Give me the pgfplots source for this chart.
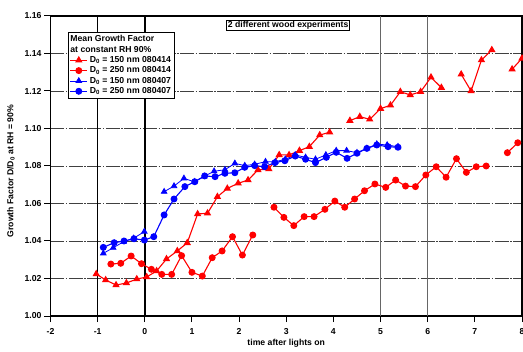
\documentclass[border=0pt]{standalone}
\usepackage{fontspec}
\setmainfont{Liberation Sans}
\usepackage{pgfplots}
\pgfplotsset{compat=1.18}
\newcommand{\chf}{\fontsize{8.7}{9.8}\selectfont\bfseries}
\begin{document}
\chf
\begin{tikzpicture}
\begin{axis}[
  scale only axis, width=471.5bp, height=300bp,
  xmin=-2, xmax=8, ymin=1.0, ymax=1.16,
  xtick={-2,-1,0,1,2,3,4,5,6,7,8},
  ytick={1.00,1.02,1.04,1.06,1.08,1.10,1.12,1.14,1.16},
  yticklabel style={/pgf/number format/.cd,fixed,fixed zerofill,precision=2},
  /pgf/number format/assume math mode=true,
  tick label style={font=\chf},
  xticklabel style={yshift=-3.5bp},
  label style={font=\chf},
  tick align=outside, tick pos=left,
  major tick length=6bp,
  tick style={line width=1bp, black},
  axis line style={line width=1.6bp},
  ymajorgrids,
  major grid style={black!75, line width=0.9bp, dash pattern=on 14bp off 1.5bp on 1.5bp off 1.5bp},
  xlabel={time after lights on},
  ylabel={Growth Factor D/D\textsubscript{0} at RH = 90\%},
  xlabel style={yshift=1bp},
  ylabel style={yshift=4bp, xshift=-5bp},
  unbounded coords=jump,
  legend cell align=left,
  legend style={at={(0.037,0.947)}, anchor=north west, draw=black, line width=1.2bp,
    font=\fontsize{8.7}{9}\selectfont\bfseries, inner sep=1.2bp, row sep=-1bp,
    /tikz/every even column/.append style={column sep=2bp}},
]
\draw[black, line width=0.9bp] (axis cs:-1,1) -- (axis cs:-1,1.16);
\draw[black, line width=1.6bp] (axis cs:0,1) -- (axis cs:0,1.16);
\draw[black!60, line width=0.9bp] (axis cs:5,1) -- (axis cs:5,1.16);
\draw[black!60, line width=0.9bp] (axis cs:6,1) -- (axis cs:6,1.16);
\addlegendimage{empty legend}\addlegendentry{\hspace*{-19.5pt}Mean Growth Factor}
\addlegendimage{empty legend}\addlegendentry{\hspace*{-19.5pt}at constant RH 90\%}
\addplot[red, line width=1.1bp, mark=triangle*, mark size=3.2bp, mark options={solid}] coordinates {
(-1.03,1.0224)(-0.83,1.0192)(-0.61,1.0165)(-0.39,1.0176)(-0.17,1.0197)(0.04,1.0208)(0.25,1.024)(0.46,1.0304)(0.69,1.0347)(0.90,1.039)(1.12,1.0544)(1.33,1.0548)(1.54,1.0636)(1.75,1.068)(1.98,1.0708)(2.19,1.0725)(2.40,1.0779)(2.63,1.0784)(2.85,1.0859)(3.06,1.0859)(3.28,1.0882)(3.49,1.0903)(3.71,1.0965)(3.92,1.098)(4.1,nan)(4.35,1.1042)(4.56,1.1063)(4.77,1.1049)(5.0,1.1106)(5.21,1.1124)(5.42,1.1196)(5.63,1.1179)(5.85,1.1196)(6.07,1.1273)(6.29,1.1218)(6.5,nan)(6.71,1.1289)(6.92,1.12)(7.14,1.1365)(7.36,1.1419)(7.55,nan)(7.79,1.1316)(8.0,1.1374)
};
\addlegendentry{D\textsubscript{0} = 150 nm 080414}
\addplot[red, line width=1.1bp, mark=*, mark size=2.9bp] coordinates {
(-0.72,1.0277)(-0.51,1.0281)(-0.29,1.032)(-0.07,1.0279)(0.14,1.0249)(0.36,1.0222)(0.57,1.0222)(0.78,1.0322)(1.0,1.0233)(1.22,1.0213)(1.43,1.0311)(1.64,1.0347)(1.86,1.0423)(2.07,1.0325)(2.29,1.0432)(2.5,nan)(2.74,1.058)(2.95,1.0526)(3.16,1.0482)(3.38,1.053)(3.59,1.053)(3.82,1.0569)(4.03,1.0613)(4.24,1.058)(4.45,1.0624)(4.66,1.0668)(4.88,1.0704)(5.11,1.0686)(5.32,1.0725)(5.53,1.0693)(5.74,1.069)(5.96,1.0752)(6.18,1.0796)(6.39,1.074)(6.61,1.0839)(6.82,1.0766)(7.03,1.0796)(7.24,1.08)(7.45,nan)(7.69,1.0871)(7.91,1.0924)
};
\addlegendentry{D\textsubscript{0} = 250 nm 080414}
\addplot[blue, line width=0.8bp, mark=triangle*, mark size=3.2bp] coordinates {
(-0.88,1.0334)(-0.67,1.0364)(-0.45,1.0396)(-0.24,1.0414)(-0.01,1.045)(0.2,nan)(0.41,1.0663)(0.62,1.0693)(0.83,1.0734)(1.05,1.0716)(1.26,1.0745)(1.47,1.0772)(1.70,1.078)(1.91,1.0814)(2.12,1.0802)(2.33,1.0809)(2.56,1.0823)(2.77,1.0823)(2.98,1.0836)(3.19,1.0859)(3.41,1.0846)(3.62,1.0836)(3.84,1.0859)(4.06,1.0882)(4.28,1.0882)(4.50,1.0871)(4.71,1.0894)(4.92,1.0917)(5.14,1.0912)(5.37,1.0903)
};
\addlegendentry{D\textsubscript{0} = 150 nm 080407}
\addplot[blue, line width=1.1bp, mark=*, mark size=2.9bp] coordinates {
(-0.88,1.0366)(-0.65,1.0391)(-0.44,1.040)(-0.23,1.0412)(-0.01,1.0405)(0.19,1.0423)(0.41,1.0539)(0.62,1.0624)(0.85,1.069)(1.06,1.0716)(1.27,1.0747)(1.49,1.0743)(1.70,1.0761)(1.91,1.0764)(2.12,1.0793)(2.33,1.0802)(2.54,1.0796)(2.76,1.0818)(2.97,1.0828)(3.19,1.0853)(3.41,1.0836)(3.62,1.0818)(3.85,1.0846)(4.06,1.0873)(4.29,1.0841)(4.50,1.0868)(4.71,1.0894)(4.92,1.0912)(5.16,1.0903)(5.37,1.09)
};
\addlegendentry{D\textsubscript{0} = 250 nm 080407}
\node[draw=black, line width=1bp, fill=white, inner sep=1.2bp, font=\chf] at (rel axis cs:0.504,0.968) {2 different wood experiments};
\end{axis}
\pgfresetboundingbox
\path ([shift={(-50.5bp,-36bp)}]current axis.south west) rectangle ([shift={(1bp,16bp)}]current axis.north east);
\end{tikzpicture}
\end{document}
